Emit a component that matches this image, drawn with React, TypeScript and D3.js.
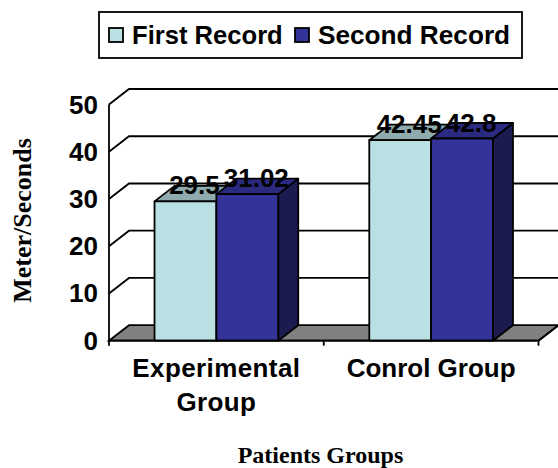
import * as d3 from "d3";

const groups = ["Experimental Group", "Conrol Group"];
const groupLines = [["Experimental", "Group"], ["Conrol Group"]];
const seriesNames = ["First Record", "Second Record"];
const firstRecord = [29.5, 42.45];
const secondRecord = [31.02, 42.8];
const yTicks = [0, 10, 20, 30, 40, 50];
const faceColors = ["#bae0e3", "#333399"];
const topColors = ["#8fabae", "#2a2a80"];
const sideColors = ["#7f9a9c", "#1b1b4f"];

const width = 558;
const height = 468;
const sansFont = "'Liberation Sans', Arial, sans-serif";
const serifFont = "'Liberation Serif', 'Times New Roman', serif";

// 3d offset of the back wall
const depthX = 20;
const depthY = 15.5;
const lineWidth = 1.8;

export default function App() {
  const x0 = d3
    .scaleBand<string>()
    .domain(groups)
    .range([109, 538.5])
    .paddingInner(0.424)
    .paddingOuter(0.212);
  const x1 = d3
    .scaleBand<string>()
    .domain(seriesNames)
    .range([0, x0.bandwidth()]);
  const y = d3.scaleLinear().domain([0, 50]).range([340.7, 104.5]);

  const left = x0.range()[0];
  const right = x0.range()[1];
  const base = y(0);
  const seriesValues = [firstRecord, secondRecord];

  return (
    <svg
      width={width}
      height={height}
      style={{ position: "absolute", left: 0, top: 0 }}
      fontFamily={sansFont}
    >
      {/* Floor */}
      <polygon
        points={`${left},${base} ${left + depthX},${base - depthY} ${right + depthX},${base - depthY} ${right},${base}`}
        fill="#808080"
        stroke="#000"
        strokeWidth={lineWidth}
      />

      {/* Gridlines on the wall and the left side */}
      {yTicks.slice(1).map((t) => (
        <path
          key={t}
          d={`M${left},${y(t)}L${left + depthX},${y(t) - depthY}L${right + depthX},${y(t) - depthY}`}
          fill="none"
          stroke="#000"
          strokeWidth={lineWidth}
        />
      ))}

      {/* Bars */}
      {groups.map((g, i) =>
        seriesNames.map((s, j) => {
          const bx = (x0(g) || 0) + (x1(s) || 0);
          const bw = x1.bandwidth();
          const by = y(seriesValues[j][i]);
          return (
            <g key={s + g} stroke="#000" strokeWidth={lineWidth} strokeLinejoin="round">
              <polygon
                points={`${bx + bw},${by} ${bx + bw + depthX},${by - depthY} ${bx + bw + depthX},${base - depthY} ${bx + bw},${base}`}
                fill={sideColors[j]}
              />
              <polygon
                points={`${bx},${by} ${bx + depthX},${by - depthY} ${bx + bw + depthX},${by - depthY} ${bx + bw},${by}`}
                fill={topColors[j]}
              />
              <rect x={bx} y={by} width={bw} height={base - by} fill={faceColors[j]} />
            </g>
          );
        })
      )}

      {/* Front axes */}
      <g stroke="#000" strokeWidth={lineWidth}>
        <line x1={left} x2={left} y1={y(50)} y2={base + 5} />
        <line x1={left} x2={right} y1={base} y2={base} />
        <line x1={left + (right - left) / 2} x2={left + (right - left) / 2} y1={base} y2={base + 5} />
        <line x1={right} x2={right} y1={base} y2={base + 5} />
        <line x1={right} x2={right + depthX} y1={base} y2={base - depthY} />
      </g>

      {/* Y tick labels */}
      {yTicks.map((t) => (
        <text
          key={t}
          x={98}
          y={y(t) + 9}
          textAnchor="end"
          fontSize={26}
          fontWeight="bold"
        >
          {t}
        </text>
      ))}

      {/* Value labels */}
      {groups.map((g, i) =>
        seriesNames.map((s, j) => (
          <text
            key={s + g}
            x={(x0(g) || 0) + (x1(s) || 0) + x1.bandwidth() / 2 + 9}
            y={y(seriesValues[j][i]) - 7}
            textAnchor="middle"
            fontSize={26}
            fontWeight="bold"
          >
            {seriesValues[j][i]}
          </text>
        ))
      )}

      {/* Category labels */}
      {groups.map((g, i) =>
        groupLines[i].map((line, k) => (
          <text
            key={line}
            x={(x0(g) || 0) + x0.bandwidth() / 2}
            y={377 + k * 34}
            textAnchor="middle"
            fontSize={26}
            letterSpacing={i === 0 ? 0.4 : 0}
            fontWeight="bold"
          >
            {line}
          </text>
        ))
      )}

      {/* Axis titles */}
      <text
        transform="translate(31,220.5) rotate(-90)"
        textAnchor="middle"
        fontFamily={serifFont}
        fontSize={26}
        fontWeight="bold"
      >
        Meter/Seconds
      </text>
      <text
        x={320.5}
        y={463}
        textAnchor="middle"
        fontFamily={serifFont}
        fontSize={24}
        fontWeight="bold"
      >
        Patients Groups
      </text>

      {/* Legend */}
      <rect x={99} y={12} width={423} height={46} fill="#fff" stroke="#000" strokeWidth={lineWidth} />
      <rect x={109} y={28} width={14} height={14} fill={faceColors[0]} stroke="#000" strokeWidth={lineWidth} />
      <text x={132} y={44} fontSize={25.6} fontWeight="bold">
        {seriesNames[0]}
      </text>
      <rect x={295} y={28} width={14} height={14} fill={faceColors[1]} stroke="#000" strokeWidth={lineWidth} />
      <text x={318} y={44} fontSize={26.2} fontWeight="bold">
        {seriesNames[1]}
      </text>
    </svg>
  );
}
